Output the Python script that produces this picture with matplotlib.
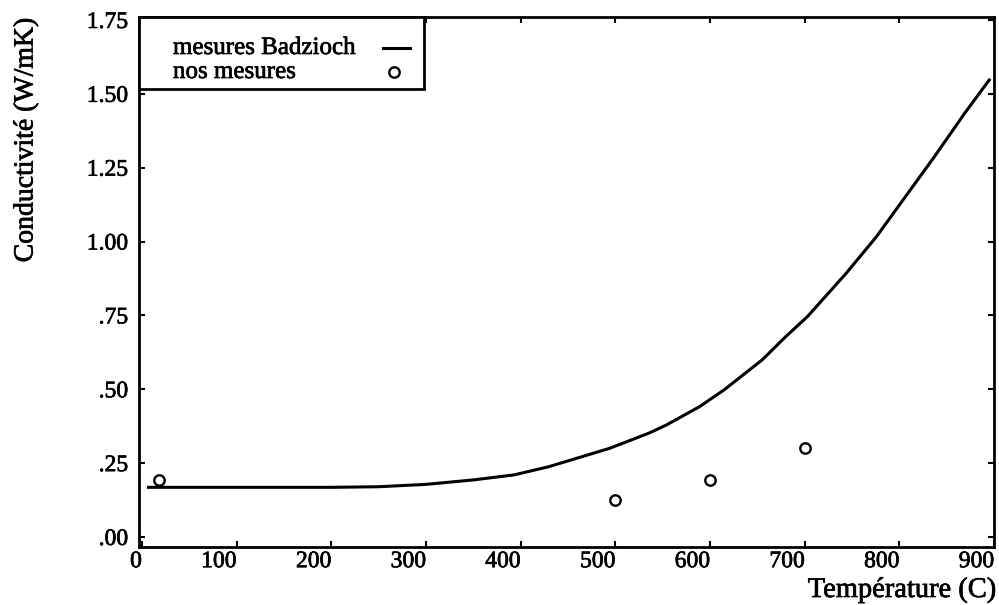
import numpy as np
import matplotlib
matplotlib.use("Agg")
import matplotlib.pyplot as plt
import matplotlib.patheffects as pe
from matplotlib.patches import Rectangle
from matplotlib.lines import Line2D
from matplotlib.ticker import FixedLocator, FuncFormatter

plt.rcParams['font.family'] = ['Liberation Serif', 'DejaVu Serif']

# courbe de Badzioch
temp_badz = [7, 100, 200, 250, 300, 350, 393, 430, 494, 536, 554, 589, 615,
             655, 680, 703, 744, 776, 804, 837, 869, 895]
cond_badz = [0.168, 0.168, 0.168, 0.170, 0.178, 0.193, 0.21, 0.238, 0.300,
             0.352, 0.379, 0.441, 0.498, 0.599, 0.678, 0.746, 0.893, 1.017,
             1.141, 1.287, 1.434, 1.547]

# nos mesures
temp_mes = [18, 500, 600, 700]
cond_mes = [0.193, 0.125, 0.193, 0.30]

xticks = [0, 100, 200, 300, 400, 500, 600, 700, 800, 900]
yticks = [0.0, 0.25, 0.5, 0.75, 1.0, 1.25, 1.5, 1.75]
labels = ['mesures Badzioch', 'nos mesures']

ink = [pe.withStroke(linewidth=0.5, foreground='black')]


def ylab(v, pos):
    s = "%.2f" % v
    return s[1:] if s.startswith("0") else s


fig = plt.figure(figsize=(9.99, 6.05), dpi=100)
ax = fig.add_axes([139/999, 1-547/605, (994-139)/999, (547-17)/605])

line, = ax.plot(temp_badz, cond_badz, color='black', lw=2.2)
pts, = ax.plot(temp_mes, cond_mes, ls='none', marker='o', ms=7.5, mfc='white',
               mec='black', mew=1.7)

ax.set_xlim(-3, 900)
ax.set_ylim(-0.034, 1.76)
ax.xaxis.set_major_locator(FixedLocator(xticks))
ax.yaxis.set_major_locator(FixedLocator(yticks))
ax.yaxis.set_major_formatter(FuncFormatter(ylab))

for s in ax.spines.values():
    s.set_linewidth(2)
ax.tick_params(direction='in', length=4, width=1.5, top=True, right=True,
               labelsize=17)
ax.tick_params(axis='y', pad=8)
ax.tick_params(axis='x', pad=3)
for lab in ax.get_xticklabels():
    lab.set_horizontalalignment('right')
for lab in ax.get_xticklabels() + ax.get_yticklabels():
    lab.set_path_effects(ink)

# legende dessinee a la main : texte a gauche, symbole a droite
box_w = (424 - 139) / 855
box_h = (89 - 17) / 530
ax.add_patch(Rectangle((0, 1 - box_h), box_w, box_h, transform=ax.transAxes,
                       fill=True, facecolor='white', edgecolor='black',
                       lw=2, zorder=5, clip_on=False))
row_y = [1 - 31 / 530, 1 - 55 / 530]
tx = 34 / 855
for lbl, yy in zip(labels, row_y):
    ax.text(tx, yy, lbl, transform=ax.transAxes, ha='left', va='center',
            fontsize=18, zorder=6, path_effects=ink)
ax.add_line(Line2D([(383 - 139) / 855, (410 - 139) / 855], [row_y[0]] * 2,
                   transform=ax.transAxes, color=line.get_color(),
                   lw=line.get_linewidth(), zorder=6))
ax.add_line(Line2D([(394 - 139) / 855], [row_y[1]], transform=ax.transAxes,
                   ls='none', marker=pts.get_marker(), ms=pts.get_markersize(),
                   mfc='white', mec='black', mew=pts.get_markeredgewidth(),
                   zorder=6))

fig.text(26/999, 1-140/605, 'Conductivité (W/mK)', rotation=90,
         ha='center', va='center', fontsize=20, path_effects=ink)
fig.text(996/999, 1-597/605, 'Température (C)', ha='right', va='baseline',
         fontsize=20.5, path_effects=ink)

fig.savefig('out.png', dpi=100)
